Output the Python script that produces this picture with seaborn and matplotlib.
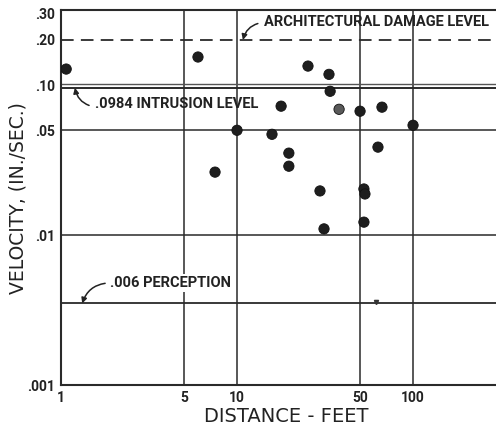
import matplotlib
matplotlib.use("Agg")
import matplotlib.pyplot as plt
import seaborn as sns
import pandas as pd

# ---- data ----
distance_ft = [1.07, 6.0, 10.0, 7.5, 15.8, 17.8, 19.7, 19.7, 25.3, 29.6, 31.2,
               33.3, 33.8, 38.0, 50.0, 52.6, 53.3, 52.6, 63.2, 66.6, 100.0]
velocity = [0.128, 0.154, 0.050, 0.0263, 0.047, 0.0724, 0.0352, 0.0288, 0.134, 0.0197, 0.011,
            0.118, 0.091, 0.069, 0.067, 0.0203, 0.0188, 0.0122, 0.0386, 0.0713, 0.054]
shade = ["dark"] * 13 + ["gray"] + ["dark"] * 7

x_ticks = [1, 5, 10, 50, 100]
x_tick_labels = ["1", "5", "10", "50", "100"]
y_ticks = [0.001, 0.01, 0.05, 0.10, 0.20, 0.30]
y_tick_labels = [".001", ".01", ".05", ".10", ".20", ".30"]

damage_level = 0.20
intrusion_level = 0.096
intrusion_grid = 0.101
perception_line = 0.0035
grid_y = [0.05, 0.01]
grid_x = [5, 10, 50, 100]
stray_mark = (61.6, 0.0036)

df = pd.DataFrame({"distance": distance_ft, "velocity": velocity, "shade": shade})

sns.set_theme(style="white")
plt.rcParams["font.family"] = ["DejaVu Sans"]
cond = ["Roboto", "DejaVu Sans"]

fig = plt.figure(figsize=(4.96, 4.25), dpi=100)
ax = fig.add_axes([0.123, 0.094, 0.877, 0.882])
ax.set_xscale("log")
ax.set_yscale("log")
ax.set_xlim(1, 296)
ax.set_ylim(0.001, 0.316)

lc = "#2a2a2a"
for gx in grid_x:
    ax.axvline(gx, color=lc, lw=1.1, zorder=1)
for gy in grid_y:
    ax.axhline(gy, color=lc, lw=1.1, zorder=1)
ax.axhline(intrusion_grid, color="#555555", lw=1.0, zorder=1)
ax.axhline(intrusion_level, color=lc, lw=1.4, zorder=1)
ax.axhline(perception_line, color=lc, lw=1.3, zorder=1)
ax.axhline(damage_level, color=lc, lw=1.3, ls=(0, (7, 4)), zorder=1)

sns.scatterplot(data=df, x="distance", y="velocity", hue="shade",
                palette={"dark": "#1e1e1e", "gray": "#5a5a5a"},
                s=55, edgecolor="#111111", linewidth=0.6, legend=False, ax=ax, zorder=3)
ax.plot([stray_mark[0]], [stray_mark[1]], marker="v", ms=3, color="#333333", zorder=3)

ax.set_xticks(x_ticks)
ax.set_xticklabels(x_tick_labels)
ax.set_yticks(y_ticks)
ax.set_yticklabels(y_tick_labels)
ax.minorticks_off()
ax.tick_params(length=0, pad=4)
for lab in ax.get_xticklabels() + ax.get_yticklabels():
    lab.set_family(cond)
    lab.set_fontweight("bold")
    lab.set_fontsize(10)
    lab.set_color("#222222")

for side in ["left", "top", "bottom"]:
    ax.spines[side].set_color(lc)
    ax.spines[side].set_linewidth(1.5)
ax.spines["right"].set_visible(False)

ax.set_xlabel("DISTANCE - FEET", fontsize=14, color="#222222", va="center")
ax.xaxis.set_label_coords(0.517, -0.083)
ax.set_ylabel("VELOCITY, (IN./SEC.)", fontsize=13.5, color="#222222", va="center")
ax.yaxis.set_label_coords(-0.1, 0.5)

ann_kw = dict(fontsize=10.5, fontweight="bold", family=cond, color="#222222", zorder=4)


def arrow(rad, rel):
    return dict(arrowstyle="-|>", color="#222222", lw=1.1, mutation_scale=8,
                shrinkA=2, shrinkB=0, relpos=rel, connectionstyle=f"arc3,rad={rad}")


ax.annotate("ARCHITECTURAL DAMAGE LEVEL", xy=(10.8, damage_level), xytext=(14.2, 0.262),
            ha="left", va="center", arrowprops=arrow(0.35, (0, 0.5)), **ann_kw)
ax.annotate(".0984 INTRUSION LEVEL", xy=(1.2, intrusion_level), xytext=(1.56, 0.0747),
            ha="left", va="center", arrowprops=arrow(-0.35, (0, 0.3)), **ann_kw)
ax.annotate(".006 PERCEPTION", xy=(1.32, perception_line), xytext=(1.9, 0.0048),
            ha="left", va="center", arrowprops=arrow(0.35, (0, 0.5)),
            bbox=dict(boxstyle="square,pad=0.15", fc="white", ec="none"), **ann_kw)

fig.savefig("out.png", dpi=100)
